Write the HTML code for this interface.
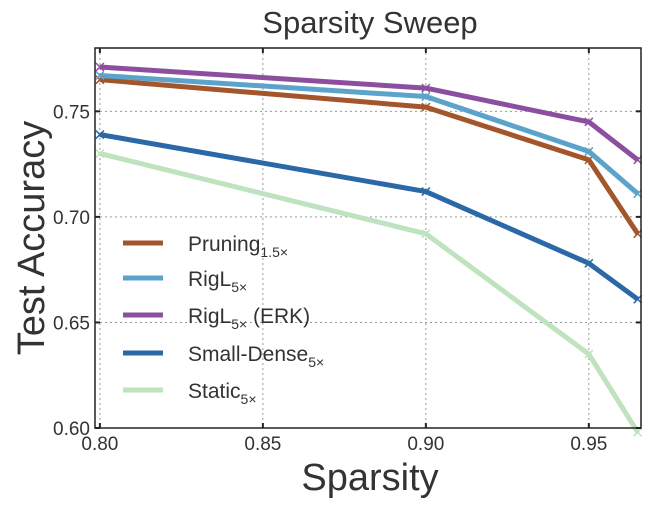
<!DOCTYPE html>
<html><head><meta charset="utf-8"><style>
body{margin:0;background:#fff;}
svg text{font-family:"Liberation Sans",sans-serif;fill:#333;}
</style></head><body>
<svg width="649" height="505" id="c">
<text x="370" y="33" font-size="31" text-anchor="middle">Sparsity Sweep</text>
<text x="370" y="490" font-size="38" text-anchor="middle">Sparsity</text>
<text transform="translate(44,238) rotate(-90)" font-size="38" text-anchor="middle">Test Accuracy</text>
<g id="grid"></g><g id="series"></g><g id="ticks"></g>
<rect x="95" y="48" width="546" height="380" fill="none" stroke="#222" stroke-width="1.5"/>
<g id="legend"></g>
</svg>
<script>
const sparsity=[0.80,0.90,0.95,0.965];
const pruning=[0.765,0.752,0.727,0.692];
const rigl=[0.767,0.757,0.731,0.711];
const riglErk=[0.771,0.761,0.745,0.727];
const smallDense=[0.739,0.712,0.678,0.661];
const staticS=[0.730,0.692,0.635,0.598];
const xTicks=[0.80,0.85,0.90,0.95];
const yTicks=[0.60,0.65,0.70,0.75];
const NS="http://www.w3.org/2000/svg";
const X0=95,X1=641,Y0=428,Y1=48,xmin=0.7985,xmax=0.966,ymin=0.60,ymax=0.780;
function xs(v){return X0+(v-xmin)/(xmax-xmin)*(X1-X0);}
function ys(v){return Y0-(v-ymin)/(ymax-ymin)*(Y0-Y1);}
function mk(t,a,p){const e=document.createElementNS(NS,t);for(const k in a)e.setAttribute(k,a[k]);p.appendChild(e);return e;}
const grid=document.getElementById('grid'),ticks=document.getElementById('ticks');
xTicks.forEach(v=>{const x=xs(v);
 const g=mk('line',{x1:x,x2:x,y1:Y1,y2:Y0,stroke:'#999','stroke-dasharray':'2,3','stroke-width':1},grid);
 
 mk('line',{x1:x,x2:x,y1:Y0,y2:Y0-5,stroke:'#222','stroke-width':2},ticks);
 mk('line',{x1:x,x2:x,y1:Y1,y2:Y1+5,stroke:'#222','stroke-width':2},ticks);
 const t=mk('text',{x:x,y:450,'font-size':19,'text-anchor':'middle'},ticks);t.textContent=v.toFixed(2);
 });
yTicks.forEach(v=>{const y=ys(v);
 const g=mk('line',{x1:X0,x2:X1,y1:y,y2:y,stroke:'#999','stroke-dasharray':'2,3','stroke-width':1},grid);
 
 mk('line',{x1:X0,x2:X0+5,y1:y,y2:y,stroke:'#222','stroke-width':2},ticks);
 mk('line',{x1:X1,x2:X1-5,y1:y,y2:y,stroke:'#222','stroke-width':2},ticks);
 const t=mk('text',{x:90,y:y+7,'font-size':19,'text-anchor':'end'},ticks);t.textContent=v.toFixed(2);
 });
const ser=[
 {n:'static',d:staticS,c:'#bfe2bf',l:'Static',s:'5\u00d7'},
 {n:'small-dense',d:smallDense,c:'#2b68a8',l:'Small-Dense',s:'5\u00d7'},
 {n:'pruning',d:pruning,c:'#a3562b',l:'Pruning',s:'1.5\u00d7'},
 {n:'rigl',d:rigl,c:'#5ba3cb',l:'RigL',s:'5\u00d7'},
 {n:'rigl-erk',d:riglErk,c:'#8c4f9f',l:'RigL',s:'5\u00d7',e:'  (ERK)'}];
const sg=document.getElementById('series');
ser.forEach(s=>{
 const pts=sparsity.map((v,i)=>xs(v)+','+ys(s.d[i])).join(' ');
 const p=mk('polyline',{points:pts,fill:'none',stroke:s.c,'stroke-width':5,'stroke-linejoin':'round'},sg);
 
 sparsity.forEach((v,i)=>{const x=xs(v),y=ys(s.d[i]);
  const m=mk('path',{d:`M${x-4},${y-4}L${x+4},${y+4}M${x-4},${y+4}L${x+4},${y-4}`,stroke:s.c,'stroke-width':1.5},sg);
  });
});
const lg=document.getElementById('legend');
const order=[2,3,4,1,0],rows=[243,278,315,353,390];
order.forEach((k,i)=>{const s=ser[k],y=rows[i];
 const l=mk('line',{x1:123,x2:163,y1:y,y2:y,stroke:s.c,'stroke-width':5},lg);
 
 const t=mk('text',{x:188,y:y+8,'font-size':21},lg);
 
 t.appendChild(document.createTextNode(s.l));
 const sub=mk('tspan',{'font-size':14,dy:6},t);sub.textContent=s.s;
 if(s.e){const e=mk('tspan',{dy:-6},t);e.textContent=s.e;e.setAttribute('xml:space','preserve');}
});
</script>
</body></html>
